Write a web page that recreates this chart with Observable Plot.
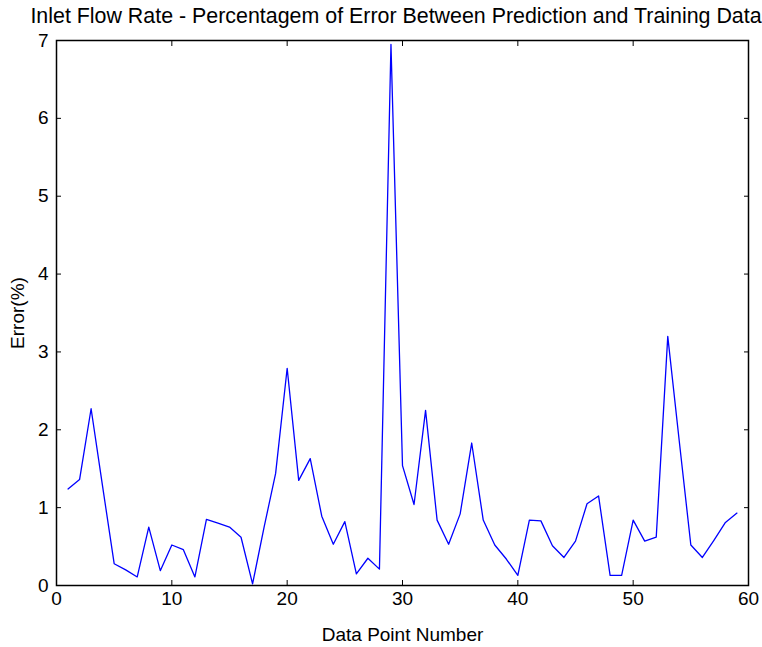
<!DOCTYPE html>
<html>
<head>
<meta charset="utf-8">
<script src="https://cdn.jsdelivr.net/npm/d3@7"></script>
<script src="https://cdn.jsdelivr.net/npm/@observablehq/plot@0.6"></script>
<style>
  html, body { margin: 0; padding: 0; background: #fff; }
  #title { font-family: "Liberation Sans", Arial, sans-serif; font-size: 21.4px; height: 28px; line-height: 32px; text-align: center; width: 762px; padding-left: 30px; box-sizing: border-box; color: #000; white-space: nowrap; overflow: visible; }
  svg { display: block; }
</style>
</head>
<body>
<div id="title">Inlet Flow Rate - Percentagem of Error Between Prediction and Training Data</div>
<div id="chart"></div>
<script>
const xLabel = "Data Point Number";
const yLabel = "Error(%)";
const xTicks = [0, 10, 20, 30, 40, 50, 60];
const yTicks = [0, 1, 2, 3, 4, 5, 6, 7];
const dataPoint = [1,2,3,4,5,6,7,8,9,10,11,12,13,14,15,16,17,18,19,20,21,22,23,24,25,26,27,28,29,30,31,32,33,34,35,36,37,38,39,40,41,42,43,44,45,46,47,48,49,50,51,52,53,54,55,56,57,58,59];
const errorPct = [1.24,1.36,2.27,1.27,0.28,0.2,0.11,0.75,0.19,0.52,0.46,0.11,0.85,0.8,0.75,0.62,0.02,0.75,1.44,2.79,1.35,1.63,0.89,0.53,0.82,0.15,0.35,0.21,6.95,1.54,1.04,2.25,0.84,0.53,0.92,1.83,0.84,0.52,0.34,0.13,0.84,0.83,0.51,0.36,0.57,1.05,1.15,0.13,0.13,0.84,0.57,0.62,3.2,1.85,0.52,0.36,0.58,0.81,0.93];

const data = dataPoint.map((x, i) => ({x, y: errorPct[i]}));
const fmt = d => String(d);

const plot = Plot.plot({
  width: 762,
  height: 619,
  marginTop: 12,
  marginBottom: 62,
  marginLeft: 56,
  marginRight: 14,
  style: {fontFamily: "'Liberation Sans', Arial, sans-serif", fontSize: "19px", color: "#000", background: "#fff", overflow: "visible"},
  x: {domain: [0, 60]},
  y: {domain: [0, 7]},
  marks: [
    Plot.frame({stroke: "#000", strokeWidth: 1.5}),
    Plot.axisX(xTicks, {anchor: "bottom", tickSize: 0, tickPadding: 6, tickFormat: fmt, label: xLabel, labelAnchor: "center", labelArrow: "none", labelOffset: 55, fontSize: 19}),
    Plot.axisX(xTicks, {anchor: "bottom", tickSize: -5, tickFormat: null, text: null, label: null}),
    Plot.axisX(xTicks, {anchor: "top", tickSize: -5, tickFormat: null, text: null, label: null}),
    Plot.axisY(yTicks, {anchor: "left", tickSize: 0, tickPadding: 8, tickFormat: fmt, label: yLabel, labelAnchor: "center", labelArrow: "none", labelOffset: 46, fontSize: 19}),
    Plot.axisY(yTicks, {anchor: "left", tickSize: -5, tickFormat: null, text: null, label: null}),
    Plot.axisY(yTicks, {anchor: "right", tickSize: -5, tickFormat: null, text: null, label: null}),
    Plot.line(data, {x: "x", y: "y", stroke: "#0000ff", strokeWidth: 1.3})
  ]
});
document.getElementById("chart").appendChild(plot);
</script>
</body>
</html>
